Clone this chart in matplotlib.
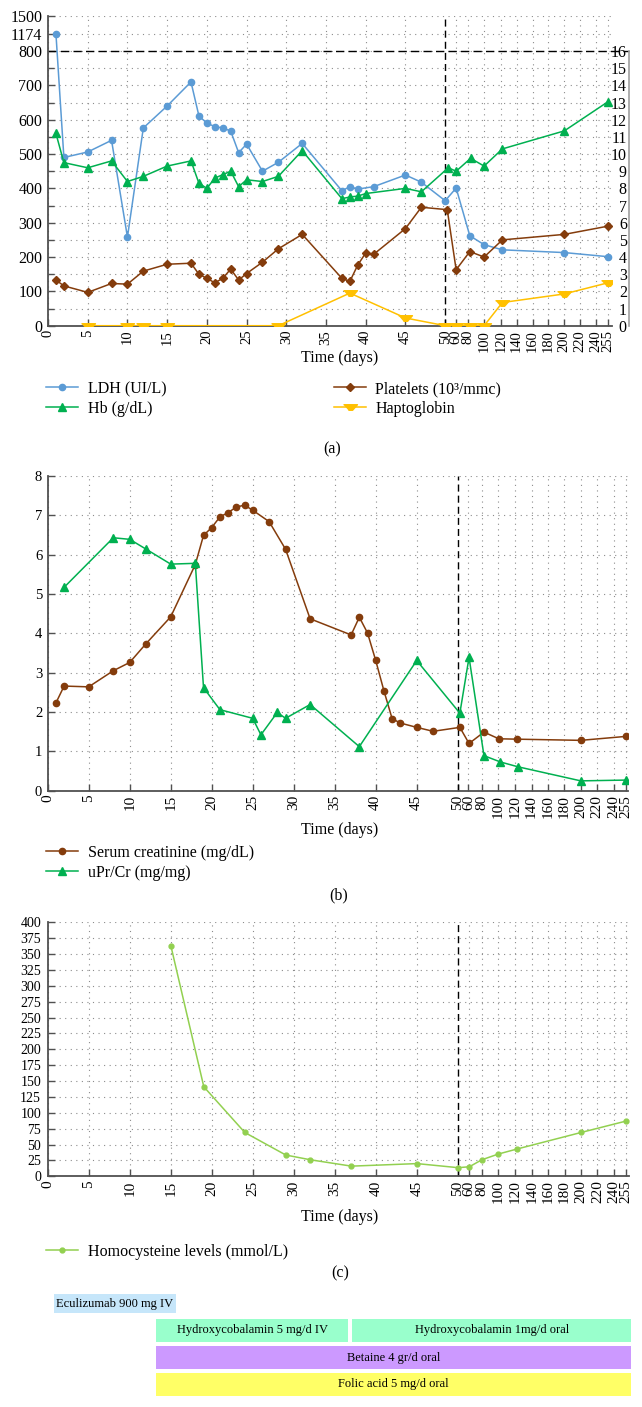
import numpy as np
import matplotlib
matplotlib.use('Agg')
import matplotlib.pyplot as plt

plt.rcParams['font.family'] = ['Liberation Serif', 'DejaVu Serif']

# (a) haemolysis markers
ldh_days = [1, 2, 5, 8, 10, 12, 15, 18, 19, 20, 21, 22, 23, 24, 25, 27, 29, 32,
            37, 38, 39, 41, 45, 47, 50, 61, 82, 100, 122, 200, 255]
ldh = [1174, 490, 506, 540, 258, 576, 640, 710, 611, 590, 580, 576, 567, 504, 529, 450, 476, 531,
       393, 405, 398, 405, 439, 418, 364, 401, 262, 236, 221, 213, 201]
hb_days = [1, 2, 5, 8, 10, 12, 15, 18, 19, 20, 21, 22, 23, 24, 25, 27, 29, 32,
           37, 38, 39, 40, 45, 47, 53, 61, 83, 100, 122, 200, 255]
hb = [11.2, 9.5, 9.2, 9.6, 8.4, 8.7, 9.3, 9.6, 8.3, 8.0, 8.6, 8.8, 9.0, 8.1, 8.5, 8.4, 8.7, 10.2,
      7.4, 7.5, 7.55, 7.7, 8.0, 7.8, 9.2, 9.0, 9.75, 9.3, 10.3, 11.35, 13.05]
plt_days = [1, 2, 5, 8, 10, 12, 15, 18, 19, 20, 21, 22, 23, 24, 25, 27, 29, 32,
            37, 38, 39, 40, 41, 45, 47, 52, 61, 82, 100, 122, 200, 255]
platelets = [133, 116, 97, 123, 121, 159, 179, 182, 150, 138, 125, 138, 165, 133, 152, 185, 224, 266,
             138, 129, 177, 212, 208, 283, 345, 338, 163, 216, 200, 250, 266, 290]
hapto_days = [5, 10, 12, 15, 29, 38, 45, 50, 61, 82, 100, 122, 200, 255]
hapto = [0, 0, 0, 0, 0, 1.9, 0.45, 0, 0, 0, 0, 1.35, 1.85, 2.5]

# (b) renal
cr_days = [1, 2, 5, 8, 10, 12, 15, 18, 19, 20, 21, 22, 23, 24, 25, 27, 29, 32,
           37, 38, 39, 40, 41, 42, 43, 45, 47, 52, 61, 83, 101, 122, 200, 255]
creat = [2.23, 2.66, 2.64, 3.05, 3.26, 3.74, 4.42, 5.75, 6.49, 6.69, 6.96, 7.07, 7.21, 7.26, 7.13, 6.84, 6.14, 4.37,
         3.96, 4.41, 4.01, 3.31, 2.54, 1.83, 1.72, 1.61, 1.51, 1.61, 1.2, 1.49, 1.32, 1.31, 1.28, 1.38]
upcr_days = [2, 8, 10, 12, 15, 18, 19, 21, 25, 26, 28, 29, 32, 38, 45, 52, 61, 83, 103, 123, 200, 255]
upcr = [5.17, 6.43, 6.39, 6.14, 5.76, 5.78, 2.62, 2.06, 1.84, 1.42, 1.99, 1.84, 2.19, 1.12, 3.31, 1.97,
        3.39, 0.89, 0.73, 0.61, 0.25, 0.27]

# (c) homocysteine
hcy_days = [15, 19, 24, 29, 32, 37, 45, 50, 61, 80, 100, 122, 200, 255]
hcy = [362, 141, 69, 33.5, 26, 16, 20, 13.6, 15, 26, 35, 43, 69, 87]

# treatments (start / end day, row)
drugs = ['Eculizumab 900 mg IV', 'Hydroxycobalamin 5 mg/d IV', 'Hydroxycobalamin 1mg/d oral',
         'Betaine 4 gr/d oral', 'Folic acid 5 mg/d oral']
drug_start = [0.7, 13.2, 37.1, 13.2, 13.2]
drug_end = [15.6, 36.6, 261, 261, 261]
drug_row = [0, 1, 1, 2, 3]
drug_col = ['#c6e6fa', '#99ffcc', '#99ffcc', '#cc99ff', '#ffff66']

x_ticks = [0, 5, 10, 15, 20, 25, 30, 35, 40, 45, 50, 60, 80, 100, 120, 140, 160, 180, 200, 220, 240, 255]

# time axis: linear up to day 50, squeezed afterwards
T_DAY = [-100, 0, 50, 60, 80, 100, 120, 140, 160, 180, 200, 220, 240, 255, 1000]
T_POS = [-100, 0, 50, 51.3, 52.9, 54.9, 57.0, 59.0, 61.0, 63.0, 65.0, 67.0, 69.0, 70.5, 145.0]


def t_fwd(x):
    return np.interp(x, T_DAY, T_POS)


def t_inv(x):
    return np.interp(x, T_POS, T_DAY)


# broken left axis of (a): 0-800 linear, then 1174 and 1500 squeezed
Y_VAL = [-1000, 0, 800, 1174, 1500, 5000]
Y_POS = [-1000, 0, 800, 850, 903, 1440]


def y_fwd(y):
    return np.interp(y, Y_VAL, Y_POS)


def y_inv(y):
    return np.interp(y, Y_POS, Y_VAL)


SPINE = '#505050'
GRID = dict(color='#8c8c8c', ls=(0, (1, 4)), lw=0.8)
BROWN = '#843c0c'
GREEN = '#00b050'
BLUE = '#5b9bd5'
YELLOW = '#ffc000'
LGREEN = '#92d050'
hapto_marker = [(-1, 0.4), (1, 0.4), (0.3, -0.4), (-0.3, -0.4)]


def time_axis(ax, xmax, ysize=10.5, xsize=11):
    ax.set_xscale('function', functions=(t_fwd, t_inv))
    ax.set_xlim(0, xmax)
    ax.set_xticks(x_ticks)
    ax.set_xticklabels([str(t) for t in x_ticks], rotation=90)
    for s in ['top', 'right']:
        ax.spines[s].set_visible(False)
    for s in ['left', 'bottom']:
        ax.spines[s].set_color(SPINE)
        ax.spines[s].set_linewidth(1.3)
    ax.tick_params(axis='both', which='major', direction='in', length=5, width=1, color=SPINE)
    ax.tick_params(axis='x', labelsize=xsize, pad=3)
    ax.tick_params(axis='y', labelsize=ysize, pad=4)
    ax.tick_params(axis='y', which='minor', direction='in', length=4, width=1, color=SPINE)
    ax.grid(True, axis='x', which='major', **GRID)
    ax.grid(True, axis='y', which='both', **GRID)
    ax.axvline(50, color='black', ls=(0, (5, 3)), lw=1, zorder=1.5)
    ax.set_axisbelow(True)


fig = plt.figure(figsize=(6.42, 14.07), dpi=100)

# ---------------- (a)
ax = fig.add_axes([48 / 642, 1 - 325.7 / 1407, 564 / 642, 310 / 1407])
time_axis(ax, t_inv(71.0), ysize=11.5, xsize=10.5)
ax.set_yscale('function', functions=(y_fwd, y_inv))
ax.set_ylim(0, 1500)
ax.set_yticks([0, 100, 200, 300, 400, 500, 600, 700, 800, 1174, 1500])
ax.set_yticks(np.arange(50, 800, 100), minor=True)
ax.axhline(800, xmin=0, xmax=1.03, color='black', ls=(0, (6, 3)), lw=1, clip_on=False, zorder=1.5)

l1, = ax.plot(ldh_days, ldh, '-o', color=BLUE, ms=4.5, lw=1.1, label='LDH (UI/L)')
l3, = ax.plot(plt_days, platelets, '-D', color=BROWN, ms=4, lw=1.1, label='Platelets (10³/mmc)')

ax2 = ax.twinx()
ax2.set_ylim(0, 16 * y_fwd(1500) / y_fwd(800))
ax2.set_yticks(range(0, 17))
for s in ['top', 'left', 'bottom']:
    ax2.spines[s].set_visible(False)
ax2.spines['right'].set_position(('axes', 1.03))
ax2.spines['right'].set_bounds(0, 16)
ax2.spines['right'].set_color('#a0a0a0')
ax2.spines['right'].set_linewidth(1.2)
ax2.tick_params(axis='y', direction='in', length=0, pad=-1.5, labelsize=11.5)
for tk in ax2.yaxis.get_major_ticks():
    tk.label2.set_horizontalalignment('right')
l2, = ax2.plot(hb_days, hb, '-^', color=GREEN, ms=6, lw=1.1, label='Hb (g/dL)')
l4, = ax2.plot(hapto_days, hapto, '-', marker=hapto_marker, color=YELLOW, ms=10, lw=1.1,
               label='Haptoglobin')

ax.set_xlabel('Time (days)', fontsize=11.5)
ax.xaxis.set_label_coords(340 / 642, 1 - 350 / 1407, transform=fig.transFigure)
ax.legend([l1, l2, l3, l4], [h.get_label() for h in [l1, l2, l3, l4]], ncol=2,
          loc='upper left', bbox_to_anchor=(46 / 642, 1 - 381 / 1407), bbox_transform=fig.transFigure,
          frameon=False, fontsize=11.5, handlelength=2.0, handletextpad=0.6, columnspacing=10.5,
          labelspacing=0.25, borderpad=0, borderaxespad=0)
fig.text(332 / 642, 1 - 449 / 1407, '(a)', ha='center', va='center', fontsize=11.5)

# ---------------- (b)
bx = fig.add_axes([47.7 / 642, 1 - 790.7 / 1407, 580.6 / 642, 314.7 / 1407])
time_axis(bx, t_inv(70.8))
bx.set_ylim(0, 8)
bx.set_yticks(range(0, 9))
b1, = bx.plot(cr_days, creat, '-o', color=BROWN, ms=4.5, lw=1.1, label='Serum creatinine (mg/dL)')
b2, = bx.plot(upcr_days, upcr, '-^', color=GREEN, ms=6, lw=1.1, label='uPr/Cr (mg/mg)')
bx.set_xlabel('Time (days)', fontsize=11.5)
bx.xaxis.set_label_coords(340 / 642, 1 - 822 / 1407, transform=fig.transFigure)
bx.legend(loc='upper left', bbox_to_anchor=(46 / 642, 1 - 845 / 1407), bbox_transform=fig.transFigure,
          frameon=False, fontsize=11.5, handlelength=2.0, handletextpad=0.6,
          labelspacing=0.25, borderpad=0, borderaxespad=0)
fig.text(339 / 642, 1 - 895 / 1407, '(b)', ha='center', va='center', fontsize=11.5)

# ---------------- (c)
cx = fig.add_axes([48 / 642, 1 - 1176.3 / 1407, 580.6 / 642, 254 / 1407])
time_axis(cx, t_inv(70.8), ysize=10)
cx.set_ylim(0, 400)
cx.set_yticks(range(0, 401, 25))
cx.tick_params(axis='y', pad=5)
c1, = cx.plot(hcy_days, hcy, '-o', color=LGREEN, ms=3.5, lw=1.1, label='Homocysteine levels (mmol/L)')
cx.set_xlabel('Time (days)', fontsize=11.5)
cx.xaxis.set_label_coords(340 / 642, 1 - 1209 / 1407, transform=fig.transFigure)
cx.legend(loc='upper left', bbox_to_anchor=(46 / 642, 1 - 1244 / 1407), bbox_transform=fig.transFigure,
          frameon=False, fontsize=11.5, handlelength=2.0, handletextpad=0.6,
          borderpad=0, borderaxespad=0)
fig.text(340 / 642, 1 - 1273 / 1407, '(c)', ha='center', va='center', fontsize=11.5)

# ---------------- treatment timeline
tx = fig.add_axes([48 / 642, 1 - 1398 / 1407, 580.6 / 642, 108 / 1407])
tx.set_xscale('function', functions=(t_fwd, t_inv))
tx.set_xlim(0, t_inv(70.8))
tx.set_ylim(3.5, -0.5)
tx.axis('off')
for name, s, e, r, c in zip(drugs, drug_start, drug_end, drug_row, drug_col):
    h = 0.72 if r == 0 else 0.88
    tx.barh(r, e - s, left=s, height=h, color=c, edgecolor='none', clip_on=False)
    mid = t_inv((t_fwd(s) + t_fwd(e)) / 2)
    tx.text(mid, r, name, ha='center', va='center', fontsize=9, clip_on=False)

fig.savefig('out.png', dpi=100)
